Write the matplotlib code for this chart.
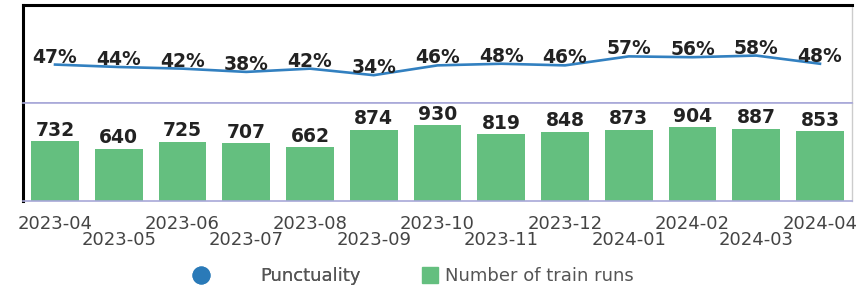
import numpy as np
import matplotlib.pyplot as plt
from matplotlib.lines import Line2D

months = ['2023-04', '2023-05', '2023-06', '2023-07', '2023-08', '2023-09', '2023-10',
          '2023-11', '2023-12', '2024-01', '2024-02', '2024-03', '2024-04']
punctuality = [47, 44, 42, 38, 42, 34, 46, 48, 46, 57, 56, 58, 48]
train_runs = [732, 640, 725, 707, 662, 874, 930, 819, 848, 873, 904, 887, 853]

line_col = '#3280c0'
bar_col = '#64bf7f'
lav = '#a8a8d8'

fig = plt.figure(figsize=(8.57, 2.9), dpi=100)
ax1 = fig.add_axes([0.027, 0.645, 0.967, 0.338])
ax2 = fig.add_axes([0.027, 0.307, 0.967, 0.338], sharex=ax1)

x = np.arange(len(months))

# top: punctuality line
ax1.plot(x, punctuality, color=line_col, lw=1.9)
for xi, v in zip(x, punctuality):
    ax1.annotate(f'{v}%', (xi, v), xytext=(0, -1.5), textcoords='offset points',
                 ha='center', va='bottom', fontsize=13.5, fontweight='bold', color='#222222')
ax1.set_ylim(0, 120)
ax1.set_xlim(-0.5, len(months) - 0.5)

# bottom: train runs
ax2.bar(x, train_runs, width=0.75, color=bar_col)
for xi, v in zip(x, train_runs):
    ax2.annotate(str(v), (xi, v), xytext=(0, 1), textcoords='offset points',
                 ha='center', va='bottom', fontsize=13.5, fontweight='bold', color='#222222')
ax2.set_ylim(0, 1200)

for ax in (ax1, ax2):
    ax.set_yticks([])
    ax.spines['left'].set_color('black')
    ax.spines['left'].set_linewidth(2.2)
    ax.spines['right'].set_color('#cccccc')
    ax.spines['right'].set_linewidth(1)
    ax.spines['bottom'].set_color(lav)
    ax.spines['bottom'].set_linewidth(1.2)
ax1.spines['top'].set_color('black')
ax1.spines['top'].set_linewidth(2.2)
ax2.spines['top'].set_color(lav)
ax2.spines['top'].set_linewidth(1.2)

ax1.tick_params(axis='x', which='both', bottom=False, labelbottom=False)

ax2.set_xticks(x[::2])
ax2.set_xticklabels(months[::2])
ax2.set_xticks(x[1::2], minor=True)
ax2.set_xticklabels(months[1::2], minor=True)
ax2.tick_params(axis='x', which='major', length=0, pad=10, labelsize=13, labelcolor='#444444')
ax2.tick_params(axis='x', which='minor', length=0, pad=21.5, labelsize=13, labelcolor='#444444')

h1 = Line2D([], [], ls='none', marker='o', markersize=12, color='#2a7ab8')
h2 = Line2D([], [], ls='none', marker='s', markersize=11, color=bar_col)
leg1 = fig.legend([h1], ['Punctuality'], loc='center left', bbox_to_anchor=(0.224, 0.048),
                  frameon=False, fontsize=13, handlelength=1, handletextpad=2.8,
                  borderpad=0, borderaxespad=0, labelcolor='#555555')
fig.add_artist(leg1)
fig.legend([h2], ['Number of train runs'], loc='center left', bbox_to_anchor=(0.491, 0.048),
           frameon=False, fontsize=13, handlelength=1, handletextpad=0.36,
           borderpad=0, borderaxespad=0, labelcolor='#555555')

fig.savefig('out.png', dpi=100)
